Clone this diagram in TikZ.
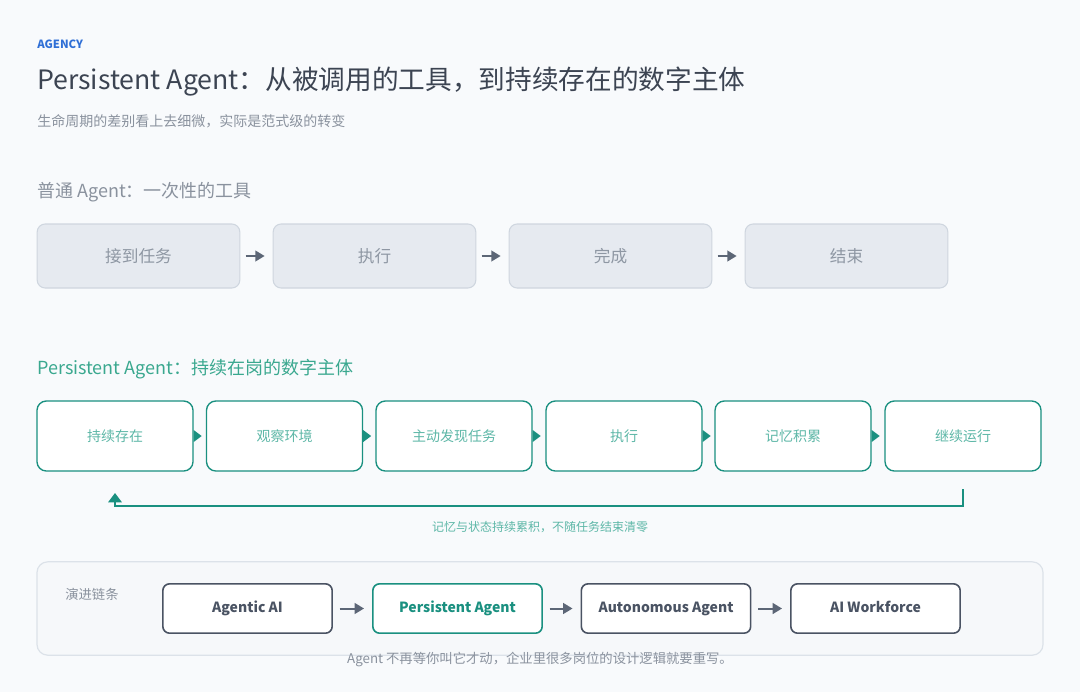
\documentclass[tikz,border=0pt]{standalone}
\usepackage{fontspec}
\setmainfont{Noto Sans CJK SC}
\usetikzlibrary{arrows.meta}
\definecolor{bg}{HTML}{F8FAFC}
\definecolor{blu}{HTML}{2F6FD6}
\definecolor{ttl}{HTML}{3C4452}
\definecolor{sub}{HTML}{8A929E}
\definecolor{gfill}{HTML}{E6EAF0}
\definecolor{gline}{HTML}{CFD6DF}
\definecolor{gtxt}{HTML}{8E97A3}
\definecolor{darr}{HTML}{5C6676}
\definecolor{teal}{HTML}{1A9080}
\definecolor{tealt}{HTML}{5DB7A7}
\definecolor{theadc}{HTML}{3AA88F}
\definecolor{pfill}{HTML}{F6F8FA}
\definecolor{pline}{HTML}{DCE2E9}
\definecolor{dk}{HTML}{4A5363}
\begin{document}
\begin{tikzpicture}[x=0.75pt,y=-0.75pt,
  gbox/.style={draw=gline,fill=gfill,rounded corners=6pt,line width=0.8pt,minimum width=152pt,minimum height=48pt,font=\fontsize{12.5}{14}\selectfont,text=gtxt},
  tbox/.style={draw=teal,fill=white,rounded corners=7pt,line width=1pt,minimum width=117pt,minimum height=52.5pt,font=\fontsize{10.5}{12}\selectfont,text=tealt},
  ebox/.style={draw=dk,fill=white,rounded corners=5pt,line width=1.2pt,minimum width=127pt,minimum height=37pt,text height=8pt,text depth=2pt,font=\fontsize{10.5}{12}\selectfont\bfseries,text=dk},
  garr/.style={draw=darr,line width=1.5pt,-{Triangle[length=7pt,width=8pt]}},
  tri/.style={fill=teal,draw=none}]
\fill[bg] (0,0) rectangle (1080,692);
\node[anchor=west,text=blu,font=\fontsize{8.5}{10}\selectfont\bfseries,inner sep=0pt] (ag) at (37,44) {AGENCY};
\node[anchor=west,text=ttl,font=\fontsize{20}{22}\selectfont,inner sep=0pt] (title) at (37,82) {Persistent Agent：从被调用的工具，到持续存在的数字主体};
\node[anchor=west,text=sub,font=\fontsize{10.5}{12}\selectfont,inner sep=0pt] (subt) at (37,121) {生命周期的差别看上去细微，实际是范式级的转变};
\node[anchor=west,text=sub,font=\fontsize{13.5}{15}\selectfont,inner sep=0pt] (h1) at (37,192) {普通 Agent：一次性的工具};
\node[gbox] (g1) at (138.5,256) {接到任务};
\node[gbox] (g2) at (374.5,256) {执行};
\node[gbox] (g3) at (610.5,256) {完成};
\node[gbox] (g4) at (846.5,256) {结束};
\draw[garr] ([xshift=4]g1.east) -- ([xshift=-6]g2.west);
\draw[garr] ([xshift=4]g2.east) -- ([xshift=-6]g3.west);
\draw[garr] ([xshift=4]g3.east) -- ([xshift=-6]g4.west);
\node[anchor=west,text=theadc,font=\fontsize{13.5}{15}\selectfont,inner sep=0pt] (h2) at (37,369) {Persistent Agent：持续在岗的数字主体};
\foreach \i/\x/\t in {1/115/持续存在,2/284.5/观察环境,3/454/主动发现任务,4/624/执行,5/793/记忆积累,6/963/继续运行}{
  \node[tbox] (t\i) at (\x,436) {\t};
}
\foreach \i in {1,...,5}{
  \fill[tri] (t\i.east)++(0,-6) -- ++(8,6) -- ++(-8,6) -- cycle;
}
\coordinate (fa) at (963,506);
\coordinate (fb) at (115,506);
\draw[teal,line width=1.8pt,-{Triangle[length=7pt,width=10pt]}] ([yshift=-13]t6.south) -- (fa) -- (fb) -- ([yshift=-16]t1.south);
\node[text=tealt,font=\fontsize{9}{11}\selectfont] (fl) at (540,527) {记忆与状态持续累积，不随任务结束清零};
\node[draw=pline,fill=pfill,line width=0.9pt,rounded corners=8pt,minimum width=754.5pt,minimum height=70pt] (panel) at (540,608.5) {};
\node[anchor=west,text=sub,font=\fontsize{10}{12}\selectfont,inner sep=0pt] (el) at (65,594) {演进链条};
\node[ebox] (e1) at (247.5,608.5) {Agentic AI};
\node[ebox,draw=teal,text=teal] (e2) at (457.5,608.5) {Persistent Agent};
\node[ebox] (e3) at (666,608.5) {Autonomous Agent};
\node[ebox] (e4) at (875.5,608.5) {AI Workforce};
\draw[garr] ([xshift=5]e1.east) -- ([xshift=-6]e2.west);
\draw[garr] ([xshift=5]e2.east) -- ([xshift=-6]e3.west);
\draw[garr] ([xshift=5]e3.east) -- ([xshift=-6]e4.west);
\node[text=sub,font=\fontsize{10}{12}\selectfont] (foot) at (540,659) {Agent 不再等你叫它才动，企业里很多岗位的设计逻辑就要重写。};
\end{tikzpicture}
\end{document}
